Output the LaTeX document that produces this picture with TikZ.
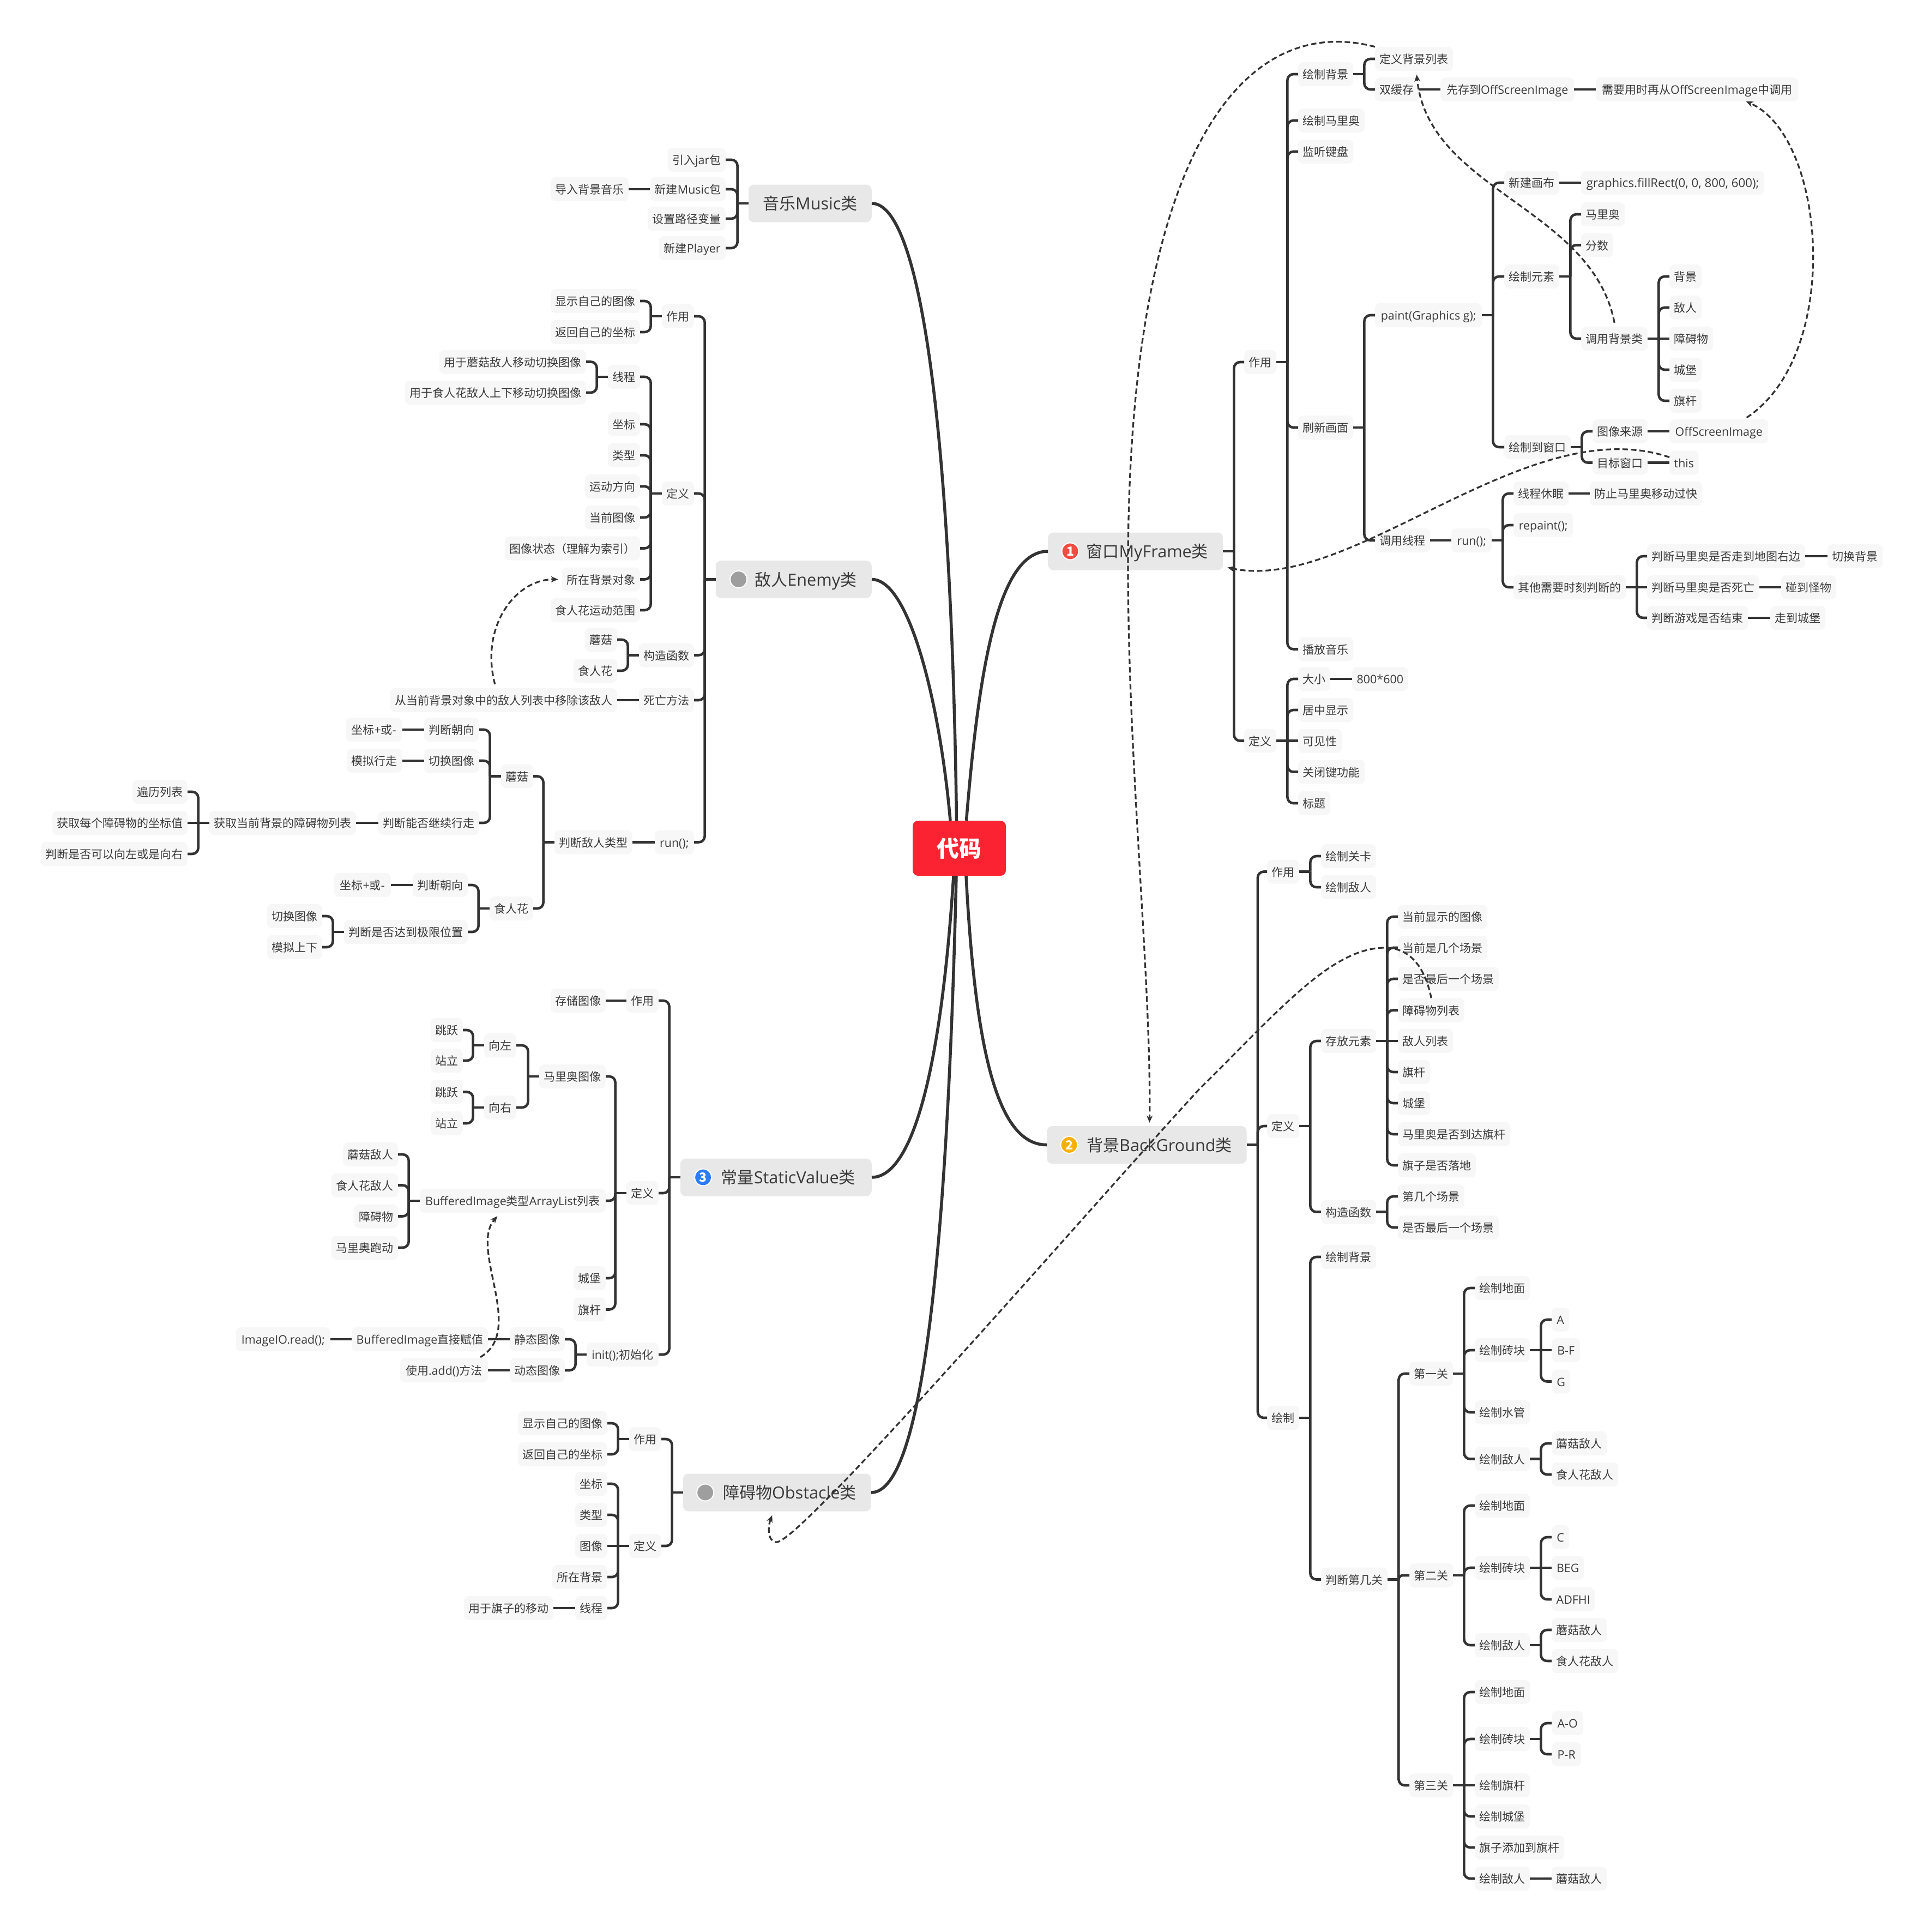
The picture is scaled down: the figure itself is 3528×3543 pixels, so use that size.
\documentclass[tikz,border=0pt]{standalone}
\usepackage{fontspec}
\setmainfont{Noto Sans CJK SC}
\newfontfamily\latfont[Scale=1.02]{Open Sans}
\newcommand{\la}[1]{{\latfont #1}}
\usetikzlibrary{arrows.meta}
\definecolor{inkc}{HTML}{333333}
\definecolor{wordc}{HTML}{3A3A3A}
\definecolor{leafc}{HTML}{F7F7F7}
\definecolor{mainc}{HTML}{E8E8E8}
\definecolor{rootc}{HTML}{FB2232}
\definecolor{redc}{HTML}{F44B42}
\definecolor{yellowc}{HTML}{F9B000}
\definecolor{bluec}{HTML}{2C7DF6}
\definecolor{grayc}{HTML}{9E9E9E}
\tikzset{
  leaf/.style={fill=leafc,text=wordc,rounded corners=9pt,inner xsep=8.5pt,inner ysep=0pt,minimum height=44pt,
    text height=19pt,text depth=2pt,font=\fontsize{21}{21}\selectfont},
  rleaf/.style={leaf,anchor=west},
  lleaf/.style={leaf,anchor=east},
  mainbox/.style={fill=mainc,text=wordc,rounded corners=10pt,inner xsep=0pt,inner ysep=0pt,minimum height=69pt,
    text height=27pt,text depth=4pt,font=\fontsize{30}{30}\selectfont},
  badge/.style={circle,draw=white,line width=2pt,minimum size=31pt,inner sep=0pt,text=white,
    font=\fontsize{23}{23}\selectfont\bfseries},
  link/.style={draw=inkc,line width=4.6pt},
  trunk/.style={draw=inkc,line width=5.5pt},
  rel/.style={draw=inkc,line width=3.2pt,dash pattern=on 10pt off 5.5pt,-{Stealth[length=13pt,width=11pt]}},
}
\newcommand{\twigR}[2]{\draw[link] (#1.east)--++(20,0);
  \foreach \kid in {#2} {\path (#1.east); \pgfgetlastxy{\ax}{\ay}; \path (\kid.west); \pgfgetlastxy{\bx}{\by};
    \pgfmathsetmacro{\rr}{min(11,abs(\ay-\by))}
    \draw[link,rounded corners=\rr pt] ([xshift=20pt]#1.east) |- (\kid.west);}}
\newcommand{\twigL}[2]{\draw[link] (#1.west)--++(-20,0);
  \foreach \kid in {#2} {\path (#1.west); \pgfgetlastxy{\ax}{\ay}; \path (\kid.east); \pgfgetlastxy{\bx}{\by};
    \pgfmathsetmacro{\rr}{min(11,abs(\ay-\by))}
    \draw[link,rounded corners=\rr pt] ([xshift=-20pt]#1.west) |- (\kid.east);}}
\begin{document}
\begin{tikzpicture}[x=1pt,y=-1pt]
  \useasboundingbox (0,0) rectangle (3528,3543);
  \node (root) at (1759.5,1555.5)[fill=rootc,text=white,rounded corners=10pt,minimum width=171pt,minimum height=101pt,inner sep=0pt,font=\fontsize{41}{41}\selectfont\bfseries]{代码};

  \node (fr) at (1922,1011)[mainbox,anchor=west,minimum width=321pt]{\hspace*{70pt}窗口\la{MyFrame}类\hspace*{27pt}};
  \node (bg) at (1920,2099.5)[mainbox,anchor=west,minimum width=364pt]{\hspace*{73pt}背景\la{BackGround}类\hspace*{27pt}};
  \node (mu) at (1599,373)[mainbox,anchor=east,minimum width=226pt]{音乐\la{Music}类};
  \node (en) at (1599,1062.5)[mainbox,anchor=east,minimum width=286pt]{\hspace*{71pt}敌人\la{Enemy}类\hspace*{27pt}};
  \node (st) at (1599,2159)[mainbox,anchor=east,minimum width=351pt]{\hspace*{72pt}常量\la{StaticValue}类\hspace*{27pt}};
  \node (ob) at (1598,2737)[mainbox,anchor=east,minimum width=345pt]{\hspace*{72pt}障碍物\la{Obstacle}类\hspace*{26pt}};
  \node (frIcon) at ([xshift=41pt]fr.west)[badge,fill=redc]{1};
  \node (bgIcon) at ([xshift=41pt]bg.west)[badge,fill=yellowc]{2};
  \node (stIcon) at ([xshift=42pt]st.west)[badge,fill=bluec]{3};
  \node (enIcon) at ([xshift=42pt]en.west)[badge,fill=grayc]{};
  \node (obIcon) at ([xshift=41pt]ob.west)[badge,fill=grayc]{};

  \foreach \nm/\yy/\tx in {fDo/664/作用,fDef/1358.5/定义} \node (\nm) at (2282,\yy)[rleaf]{\tx};
  \foreach \nm/\yy/\tx in {fBgd/136/绘制背景,fMario/221/绘制马里奥,fKey/278/监听键盘,fRefresh/784/刷新画面,fMusic/1190.5/播放音乐,
    fSize/1245/大小,fCenter/1302/居中显示,fVis/1358.5/可见性,fClose/1415.5/关闭键功能,fTitle/1473/标题}
    \node (\nm) at (2381,\yy)[rleaf]{\tx};
  \node (fList) at (2522,108)[rleaf]{定义背景列表};
  \node (fBuf) at (2522,164)[rleaf]{双缓存};
  \node (fStore) at (2642,164)[rleaf,minimum width=245pt]{先存到\la{OffScreenImage}};
  \node (fNeed) at (2927,164)[rleaf,minimum width=371pt]{需要用时再从\la{OffScreenImage}中调用};
  \node (fPaint) at (2522,578)[rleaf,minimum width=196pt]{\la{paint(Graphics g);}};
  \node (fThread) at (2522,991)[rleaf]{调用线程};
  \node (fSizeV) at (2480,1245)[rleaf,minimum width=101pt]{\la{800*600}};
  \node (fRun) at (2662,991)[rleaf,minimum width=74pt]{\la{run();}};
  \foreach \nm/\yy/\tx in {fCanvas/335/新建画布,fElem/507/绘制元素,fWin/820/绘制到窗口}
    \node (\nm) at (2759,\yy)[rleaf]{\tx};
  \node (fFill) at (2900,335)[rleaf,minimum width=336pt,font=\fontsize{21.8}{21}\selectfont]{\la{graphics.fillRect(0, 0, 800, 600);}};
  \foreach \nm/\yy/\tx in {fMa/393/马里奥,fScore/449.5/分数,fCall/621/调用背景类}
    \node (\nm) at (2900,\yy)[rleaf]{\tx};
  \foreach \nm/\yy/\tx in {fB1/507/背景,fB2/564/敌人,fB3/621/障碍物,fB4/678/城堡,fB5/735/旗杆}
    \node (\nm) at (3062,\yy)[rleaf]{\tx};
  \node (fOff) at (3062,791)[rleaf,minimum width=181pt]{\la{OffScreenImage}};
  \node (fThis) at (3062,848.5)[rleaf,minimum width=53pt]{\la{this}};
  \node (fSrc) at (2921,791)[rleaf]{图像来源};
  \node (fTgt) at (2921,848.5)[rleaf]{目标窗口};
  \node (fSleep) at (2776,905)[rleaf]{线程休眠};
  \node (fFast) at (2916,905)[rleaf]{防止马里奥移动过快};
  \node (fRepaint) at (2776,963)[rleaf,minimum width=109pt]{\la{repaint();}};
  \node (fOther) at (2776,1077)[rleaf]{其他需要时刻判断的};
  \node (fJ1) at (3021,1020)[rleaf]{判断马里奥是否走到地图右边};
  \node (fJ1a) at (3352,1020)[rleaf]{切换背景};
  \node (fJ2) at (3021,1077)[rleaf]{判断马里奥是否死亡};
  \node (fJ2a) at (3267,1077)[rleaf]{碰到怪物};
  \node (fJ3) at (3021,1133)[rleaf]{判断游戏是否结束};
  \node (fJ3a) at (3247,1133)[rleaf]{走到城堡};

  \foreach \nm/\yy/\tx in {bDo/1598.5/作用,bDef/2065/定义,bDraw/2600/绘制} \node (\nm) at (2324,\yy)[rleaf]{\tx};
  \foreach \nm/\yy/\tx in {bLevel/1570/绘制关卡,bEnemy/1627/绘制敌人,bStore/1909/存放元素,bCtor/2222.5/构造函数,bBgd/2305/绘制背景,bJudge/2896.5/判断第几关}
    \node (\nm) at (2423,\yy)[rleaf]{\tx};
  \foreach \nm/\yy/\tx in {bS1/1681/当前显示的图像,bS2/1738/当前是几个场景,bS3/1795/是否最后一个场景,bS4/1852.5/障碍物列表,bS5/1909/敌人列表,
    bS6/1966/旗杆,bS7/2023/城堡,bS8/2080/马里奥是否到达旗杆,bS9/2137/旗子是否落地,bNth/2194/第几个场景,bLast/2251/是否最后一个场景}
    \node (\nm) at (2564,\yy)[rleaf]{\tx};
  \foreach \nm/\yy/\tx in {bL1/2519/第一关,bL2/2889/第二关,bL3/3274/第三关} \node (\nm) at (2585,\yy)[rleaf]{\tx};
  \foreach \nm/\yy/\tx in {aGround/2362/绘制地面,aBrick/2476/绘制砖块,aPipe/2590/绘制水管,aEnemy/2675.5/绘制敌人,
    cGround/2761/绘制地面,cBrick/2875/绘制砖块,cEnemy/3017/绘制敌人,
    dGround/3103/绘制地面,dBrick/3189/绘制砖块,dPole/3274/绘制旗杆,dCastle/3331/绘制城堡,dFlag/3388/旗子添加到旗杆,dEnemy/3445/绘制敌人}
    \node (\nm) at (2705,\yy)[rleaf]{\tx};
  \foreach \nm/\yy/\tx in {aMush/2647/蘑菇敌人,aPir/2704/食人花敌人,cMush/2989/蘑菇敌人,cPir/3046/食人花敌人,dMush/3445/蘑菇敌人}
    \node (\nm) at (2846,\yy)[rleaf]{\tx};
  \foreach \nm/\yy/\bw/\tx in {aA/2420/32/A,aB/2476/52/B-F,aG/2533.5/34/G,cC/2819/32/C,cB/2875/59/BEG,cA/2933/78/ADFHI,dA/3160/58/A-O,dP/3217/54/P-R}
    \node (\nm) at (2846,\yy)[rleaf,minimum width=\bw pt]{\la{\tx}};

  \node (mJar) at (1331,293)[lleaf,minimum width=105pt]{引入\la{jar}包};
  \node (mNew) at (1331,347)[lleaf,minimum width=138pt]{新建\la{Music}包};
  \node (mPath) at (1331,401)[lleaf]{设置路径变量};
  \node (mPlayer) at (1331,455)[lleaf,minimum width=122pt]{新建\la{Player}};
  \node (mImport) at (1153,347)[lleaf]{导入背景音乐};

  \foreach \nm/\yy/\tx in {eDo/580/作用,eDef/905/定义,eCtor/1201.5/构造函数,eDie/1284/死亡方法}
    \node (\nm) at (1273,\yy)[lleaf]{\tx};
  \node (eRun) at (1273,1544.5)[lleaf,minimum width=72pt]{\la{run();}};
  \foreach \nm/\yy/\tx in {eShow/552/显示自己的图像,eBack/609/返回自己的坐标,eThread/691/线程,eCoord/778/坐标,eType/835/类型,eDir/892/运动方向,
    eImg/949/当前图像,eState/1005.5/图像状态（理解为索引）,eBg/1062.5/所在背景对象,eRange/1119/食人花运动范围}
    \node (\nm) at (1174,\yy)[lleaf]{\tx};
  \node (eT1) at (1075,663.5)[lleaf]{用于蘑菇敌人移动切换图像};
  \node (eT2) at (1075,720)[lleaf]{用于食人花敌人上下移动切换图像};
  \node (eCm) at (1132,1173)[lleaf]{蘑菇};
  \node (eCp) at (1132,1230)[lleaf]{食人花};
  \node (eRemove) at (1132,1284)[lleaf]{从当前背景对象中的敌人列表中移除该敌人};
  \node (eKind) at (1160,1544.5)[lleaf]{判断敌人类型};
  \node (eMush) at (978,1423.5)[lleaf]{蘑菇};
  \node (ePir) at (978,1666)[lleaf]{食人花};
  \node (eM1) at (879,1338)[lleaf]{判断朝向};
  \node (eM1a) at (737.5,1338)[lleaf,minimum width=103pt]{坐标\la{+}或\la{-}};
  \node (eM2) at (879,1395)[lleaf]{切换图像};
  \node (eM2a) at (737.5,1395)[lleaf]{模拟行走};
  \node (eM3) at (879,1509)[lleaf]{判断能否继续行走};
  \node (eM3a) at (653,1509)[lleaf]{获取当前背景的障碍物列表};
  \node (eL1) at (344,1452)[lleaf]{遍历列表};
  \node (eL2) at (344,1509)[lleaf]{获取每个障碍物的坐标值};
  \node (eL3) at (344,1566)[lleaf]{判断是否可以向左或是向右};
  \node (eP1) at (858,1623)[lleaf]{判断朝向};
  \node (eP1a) at (717,1623)[lleaf,minimum width=104pt]{坐标\la{+}或\la{-}};
  \node (eP2) at (858,1709)[lleaf]{判断是否达到极限位置};
  \node (eP2a) at (591,1680)[lleaf]{切换图像};
  \node (eP2b) at (591,1737)[lleaf]{模拟上下};

  \node (sDo) at (1208,1835)[lleaf]{作用};
  \node (sDef) at (1208,2188)[lleaf]{定义};
  \node (sInit) at (1208,2484)[lleaf,minimum width=132pt]{\la{init();}初始化};
  \foreach \nm/\yy/\tx in {sStore/1835/存储图像,sMario/1974/马里奥图像,sCastle/2344/城堡,sPole/2401.5/旗杆}
    \node (\nm) at (1111,\yy)[lleaf]{\tx};
  \node (sList) at (1111,2202)[lleaf,minimum width=341pt]{\la{BufferedImage}类型\la{ArrayList}列表};
  \node (sL) at (947,1917)[lleaf]{向左};
  \node (sR) at (947,2031)[lleaf]{向右};
  \foreach \nm/\yy/\tx in {sLj/1889/跳跃,sLs/1945/站立,sRj/2002.5/跳跃,sRs/2060/站立} \node (\nm) at (849,\yy)[lleaf]{\tx};
  \foreach \nm/\yy/\tx in {sN1/2117/蘑菇敌人,sN2/2173.5/食人花敌人,sN3/2230.5/障碍物,sN4/2288/马里奥跑动} \node (\nm) at (730,\yy)[lleaf]{\tx};
  \node (sStatic) at (1036,2456)[lleaf]{静态图像};
  \node (sDyn) at (1036,2513)[lleaf]{动态图像};
  \node (sBuf) at (895,2456)[lleaf,minimum width=249pt]{\la{BufferedImage}直接赋值};
  \node (sAdd) at (895,2513)[lleaf,minimum width=161pt]{使用\la{.add()}方法};
  \node (sRead) at (606,2456)[lleaf,minimum width=173pt]{\la{ImageIO.read();}};

  \foreach \nm/\yy/\tx in {oDo/2639/作用,oDef/2835/定义} \node (\nm) at (1213,\yy)[lleaf]{\tx};
  \foreach \nm/\yy/\tx in {oShow/2610/显示自己的图像,oBack/2667/返回自己的坐标,oCoord/2721/坐标,oType/2778/类型,oImg/2835/图像,oBg/2892/所在背景,oThread/2949/线程}
    \node (\nm) at (1114,\yy)[lleaf]{\tx};
  \node (oMove) at (1015,2949)[lleaf]{用于旗子的移动};

  \draw[trunk] ([xshift=13pt]root.north) .. controls (1795,1230) and (1830,1011) .. (fr.west);
  \draw[trunk] ([xshift=12.5pt]root.south) .. controls (1790,1950) and (1835,2099.5) .. (bg.west);
  \draw[trunk] ([xshift=-5pt]root.north) .. controls (1745,800) and (1690,373) .. (mu.east);
  \draw[trunk] ([xshift=-16.5pt]root.north) .. controls (1725,1300) and (1670,1062.5) .. (en.east);
  \draw[trunk] ([xshift=-10.5pt]root.south) .. controls (1725,1980) and (1670,2159) .. (st.east);
  \draw[trunk] ([xshift=-5.5pt]root.south) .. controls (1735,2400) and (1680,2737) .. (ob.east);

  \twigR{fr}{fDo,fDef}
  \twigR{fDo}{fBgd,fMario,fKey,fRefresh,fMusic}
  \twigR{fBgd}{fList,fBuf}
  \twigR{fBuf}{fStore}
  \twigR{fStore}{fNeed}
  \twigR{fRefresh}{fPaint,fThread}
  \twigR{fPaint}{fCanvas,fElem,fWin}
  \twigR{fCanvas}{fFill}
  \twigR{fElem}{fMa,fScore,fCall}
  \twigR{fCall}{fB1,fB2,fB3,fB4,fB5}
  \twigR{fWin}{fSrc,fTgt}
  \twigR{fSrc}{fOff}
  \twigR{fTgt}{fThis}
  \twigR{fThread}{fRun}
  \twigR{fRun}{fSleep,fRepaint,fOther}
  \twigR{fSleep}{fFast}
  \twigR{fOther}{fJ1,fJ2,fJ3}
  \twigR{fJ1}{fJ1a}
  \twigR{fJ2}{fJ2a}
  \twigR{fJ3}{fJ3a}
  \twigR{fDef}{fSize,fCenter,fVis,fClose,fTitle}
  \twigR{fSize}{fSizeV}

  \twigR{bg}{bDo,bDef,bDraw}
  \twigR{bDo}{bLevel,bEnemy}
  \twigR{bDef}{bStore,bCtor}
  \twigR{bStore}{bS1,bS2,bS3,bS4,bS5,bS6,bS7,bS8,bS9}
  \twigR{bCtor}{bNth,bLast}
  \twigR{bDraw}{bBgd,bJudge}
  \twigR{bJudge}{bL1,bL2,bL3}
  \twigR{bL1}{aGround,aBrick,aPipe,aEnemy}
  \twigR{aBrick}{aA,aB,aG}
  \twigR{aEnemy}{aMush,aPir}
  \twigR{bL2}{cGround,cBrick,cEnemy}
  \twigR{cBrick}{cC,cB,cA}
  \twigR{cEnemy}{cMush,cPir}
  \twigR{bL3}{dGround,dBrick,dPole,dCastle,dFlag,dEnemy}
  \twigR{dBrick}{dA,dP}
  \twigR{dEnemy}{dMush}

  \twigL{mu}{mJar,mNew,mPath,mPlayer}
  \twigL{mNew}{mImport}

  \twigL{en}{eDo,eDef,eCtor,eDie,eRun}
  \twigL{eDo}{eShow,eBack}
  \twigL{eDef}{eThread,eCoord,eType,eDir,eImg,eState,eBg,eRange}
  \twigL{eThread}{eT1,eT2}
  \twigL{eCtor}{eCm,eCp}
  \twigL{eDie}{eRemove}
  \twigL{eRun}{eKind}
  \twigL{eKind}{eMush,ePir}
  \twigL{eMush}{eM1,eM2,eM3}
  \twigL{eM1}{eM1a}
  \twigL{eM2}{eM2a}
  \twigL{eM3}{eM3a}
  \twigL{eM3a}{eL1,eL2,eL3}
  \twigL{ePir}{eP1,eP2}
  \twigL{eP1}{eP1a}
  \twigL{eP2}{eP2a,eP2b}

  \twigL{st}{sDo,sDef,sInit}
  \twigL{sDo}{sStore}
  \twigL{sDef}{sMario,sList,sCastle,sPole}
  \twigL{sMario}{sL,sR}
  \twigL{sL}{sLj,sLs}
  \twigL{sR}{sRj,sRs}
  \twigL{sList}{sN1,sN2,sN3,sN4}
  \twigL{sInit}{sStatic,sDyn}
  \twigL{sStatic}{sBuf}
  \twigL{sBuf}{sRead}
  \twigL{sDyn}{sAdd}

  \twigL{ob}{oDo,oDef}
  \twigL{oDo}{oShow,oBack}
  \twigL{oDef}{oCoord,oType,oImg,oBg,oThread}
  \twigL{oThread}{oMove}

  \draw[rel] (fList.north west) .. controls (2270,20) and (2069,300) .. (2069,1040) .. controls (2069,1400) and (2112,1800) .. ([xshift=5pt,yshift=6pt]bg.north);
  \draw[rel] ([yshift=7pt]fCall.north) .. controls (2920,380) and (2620,350) .. ([xshift=-4pt,yshift=5pt]fBuf.north east);
  \draw[rel] ([xshift=51pt,yshift=3pt]fOff.north) .. controls (3380,650) and (3350,250) .. ([xshift=90pt]fNeed.south);
  \draw[rel] ([yshift=10pt]fThis.west) .. controls (2800,750) and (2480,1090) .. ([xshift=8pt,yshift=5pt]fr.south east);
  \draw[rel] ([xshift=-16pt,yshift=7pt]eRemove.north) .. controls (880,1150) and (945,1062) .. ([xshift=-7pt]eBg.west);
  \draw[rel] ([xshift=-14pt,yshift=2pt]sAdd.north east) .. controls (965,2440) and (860,2290) .. ([xshift=-28pt,yshift=-6pt]sList.south);
  \draw[rel] (bS4.north) .. controls (2612,1765) and (2580,1738) .. (2540,1738) .. controls (2440,1738) and (2340,1860) .. (2200,1997)
    .. controls (2050,2160) and (1750,2505) .. (1552,2713) .. controls (1480,2787) and (1435,2830) .. (1423,2828)
    .. controls (1408,2826) and (1408,2800) .. ([xshift=-9pt,yshift=-7pt]ob.south);
\end{tikzpicture}
\end{document}
